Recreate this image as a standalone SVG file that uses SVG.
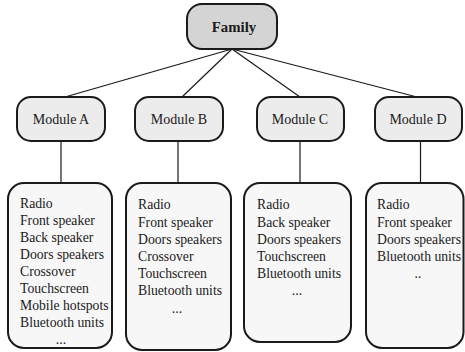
<svg xmlns="http://www.w3.org/2000/svg" width="465" height="352" viewBox="0 0 465 352">
  <style>
    .box { stroke: #1a1a1a; stroke-width: 2; }
    .root { fill: #d4d4d4; }
    .mod { fill: #ececec; }
    .list { fill: #f7f7f7; }
    .link { stroke: #1a1a1a; stroke-width: 1.2; fill: none; }
    text { fill: #1a1a1a; }
    .title { font-size: 14.8px; font-weight: bold; text-anchor: middle; }
    .mlabel { font-size: 14px; text-anchor: middle; }
    .item { font-size: 13.7px; }
    .dots { font-size: 13.7px; text-anchor: middle; }
  </style>

  <!-- connectors -->
  <g id="connectors">
    <line class="link" x1="232" y1="49" x2="65" y2="97"/>
    <line class="link" x1="232" y1="49" x2="182" y2="97"/>
    <line class="link" x1="232" y1="49" x2="300" y2="97"/>
    <line class="link" x1="232" y1="49" x2="417" y2="97"/>
    <line class="link" x1="61" y1="141" x2="61" y2="183"/>
    <line class="link" x1="178" y1="141" x2="178" y2="183"/>
    <line class="link" x1="300" y1="141" x2="300" y2="183"/>
    <line class="link" x1="420.5" y1="141" x2="420.5" y2="183"/>
  </g>

  <g font-family="'Liberation Serif', 'Times New Roman', 'DejaVu Serif', serif">
  <!-- root -->
  <g id="family">
    <rect class="box root" x="187" y="4" width="90" height="45" rx="15"/>
    <text class="title" x="234" y="32">Family</text>
  </g>

  <!-- modules -->
  <g id="module-a">
    <rect class="box mod" x="17" y="97" width="88" height="44" rx="14"/>
    <text class="mlabel" x="61" y="124">Module A</text>
  </g>
  <g id="module-b">
    <rect class="box mod" x="135" y="97" width="88" height="44" rx="14"/>
    <text class="mlabel" x="179" y="124">Module B</text>
  </g>
  <g id="module-c">
    <rect class="box mod" x="257" y="97" width="87" height="44" rx="14"/>
    <text class="mlabel" x="300" y="124">Module C</text>
  </g>
  <g id="module-d">
    <rect class="box mod" x="375" y="97" width="87" height="44" rx="14"/>
    <text class="mlabel" x="418" y="124">Module D</text>
  </g>

  <!-- feature lists -->
  <g id="list-a">
    <rect class="box list" x="8" y="183" width="104" height="165" rx="16"/>
    <text class="item" x="20" y="207.5">Radio</text>
    <text class="item" x="20" y="224.6">Front speaker</text>
    <text class="item" x="20" y="241.7">Back speaker</text>
    <text class="item" x="20" y="258.8">Doors speakers</text>
    <text class="item" x="20" y="275.9">Crossover</text>
    <text class="item" x="20" y="293">Touchscreen</text>
    <text class="item" x="20" y="310.1">Mobile hotspots</text>
    <text class="item" x="20" y="327.2">Bluetooth units</text>
    <text class="dots" x="61" y="344.3">...</text>
  </g>
  <g id="list-b">
    <rect class="box list" x="126" y="183" width="105" height="167" rx="16"/>
    <text class="item" x="138" y="209.3">Radio</text>
    <text class="item" x="138" y="226.5">Front speaker</text>
    <text class="item" x="138" y="243.7">Doors speakers</text>
    <text class="item" x="138" y="260.9">Crossover</text>
    <text class="item" x="138" y="278.1">Touchscreen</text>
    <text class="item" x="138" y="295.3">Bluetooth units</text>
    <text class="dots" x="177" y="312.5">...</text>
  </g>
  <g id="list-c">
    <rect class="box list" x="244" y="183" width="107" height="159" rx="16"/>
    <text class="item" x="257" y="209.3">Radio</text>
    <text class="item" x="257" y="226.5">Back speaker</text>
    <text class="item" x="257" y="243.7">Doors speakers</text>
    <text class="item" x="257" y="260.9">Touchscreen</text>
    <text class="item" x="257" y="278.1">Bluetooth units</text>
    <text class="dots" x="297" y="295.3">...</text>
  </g>
  <g id="list-d">
    <rect class="box list" x="366" y="183" width="97.5" height="165" rx="16"/>
    <text class="item" x="377" y="209.3">Radio</text>
    <text class="item" x="377" y="226.5">Front speaker</text>
    <text class="item" x="377" y="243.7">Doors speakers</text>
    <text class="item" x="377" y="260.9">Bluetooth units</text>
    <text class="dots" x="418" y="278.1">..</text>
  </g>
  </g>
</svg>
